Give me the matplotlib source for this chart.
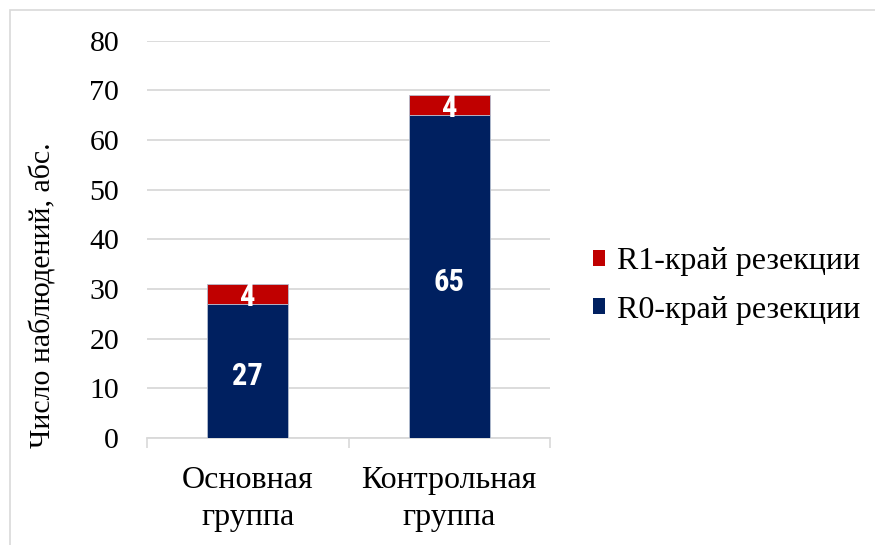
import matplotlib
matplotlib.use("Agg")
import matplotlib.pyplot as plt
from matplotlib.patches import Rectangle, Patch
from matplotlib import font_manager as fm

categories = ["Основная\nгруппа", "Контрольная\nгруппа"]
r0_values = [27, 65]
r1_values = [4, 4]
series_names = ["R0-край резекции", "R1-край резекции"]
y_ticks = [0, 10, 20, 30, 40, 50, 60, 70, 80]

c_r0 = "#002060"
c_r1 = "#C00000"
grid_c = "#D9D9D9"

plt.rcParams['font.family'] = ['Liberation Serif', 'DejaVu Serif']

# label font: narrow / condensed bold sans if available
label_fp = None
cands = []
for f in fm.fontManager.ttflist:
    key = (f.name + " " + f.fname).lower()
    if ("narrow" in key or "condensed" in key) and (f.weight in ("bold", 700) or "bold" in key):
        cands.append(f)
pref = ["liberation sans narrow", "roboto condensed", "dejavu sans condensed", "open sans condensed"]
for p in pref:
    for f in cands:
        if p in (f.name + " " + f.fname).lower().replace("-", " ").replace("_", " ") or p.replace(" ", "") in f.fname.lower():
            label_fp = fm.FontProperties(fname=f.fname)
            break
    if label_fp is not None:
        break
if label_fp is None and cands:
    label_fp = fm.FontProperties(fname=cands[0].fname)
if label_fp is None:
    label_fp = fm.FontProperties(family='DejaVu Sans', weight='bold', stretch='condensed')
label_fp.set_size(22)

W, H = 875, 545
fig = plt.figure(figsize=(W / 100, H / 100), dpi=100)
ax = fig.add_axes([147 / W, (H - 438) / H, 403 / W, (438 - 40.6) / H])

x = list(range(len(categories)))
ax.bar(x, r0_values, width=0.40, color=c_r0, edgecolor="#B4BED0", linewidth=0.6, zorder=3)
ax.bar(x, r1_values, bottom=r0_values, width=0.40, color=c_r1, edgecolor="#B4BED0", linewidth=0.6, zorder=3)

for xi, v0, v1 in zip(x, r0_values, r1_values):
    ax.text(xi, v0 / 2 - 1.0, str(v0), ha="center", va="center", color="white",
            fontproperties=label_fp, zorder=4)
    ax.text(xi, v0 + v1 / 2 - 0.6, str(v1), ha="center", va="center", color="white",
            fontproperties=label_fp, zorder=4)

ax.set_xlim(-0.5, 1.5)
ax.set_ylim(0, 80)
ax.set_yticks(y_ticks)
ax.set_xticks(x)
ax.set_xticklabels(categories, fontsize=23, linespacing=1.38)
ax.set_xticks([-0.5, 0.5, 1.5], minor=True)
ax.tick_params(axis="x", which="major", length=0, pad=20)
ax.tick_params(axis="x", which="minor", length=7.5, width=1.2, color=grid_c, direction="out")
ax.tick_params(axis="y", length=0, pad=20, labelsize=21.5)
ax.yaxis.grid(True, color=grid_c, linewidth=1.3, zorder=0)
ax.set_axisbelow(True)
for s in ["left", "right", "top"]:
    ax.spines[s].set_visible(False)
ax.spines["bottom"].set_color(grid_c)
ax.spines["bottom"].set_linewidth(1.3)

ax.set_ylabel("Число наблюдений, абс.", fontsize=21.5)
ax.yaxis.set_label_coords((57 - 147) / 403, 1 - (295 - 40.6) / (438 - 40.6))

handles = [Patch(facecolor=c_r1), Patch(facecolor=c_r0)]
fig.legend(handles, [series_names[1], series_names[0]], loc="center left",
           bbox_to_anchor=(593 / W, 1 - 286 / H), frameon=False, fontsize=23,
           borderaxespad=0, borderpad=0,
           handlelength=0.38, handleheight=0.38, handletextpad=0.36, labelspacing=0.6)

# figure border (top and left visible)
fig.patches.append(Rectangle((9.5 / W, -0.1), 1.2, (H - 9.5) / H + 0.1, transform=fig.transFigure,
                             fill=False, edgecolor="#D9D9D9", linewidth=1.2))

fig.savefig("out.png", dpi=100)
